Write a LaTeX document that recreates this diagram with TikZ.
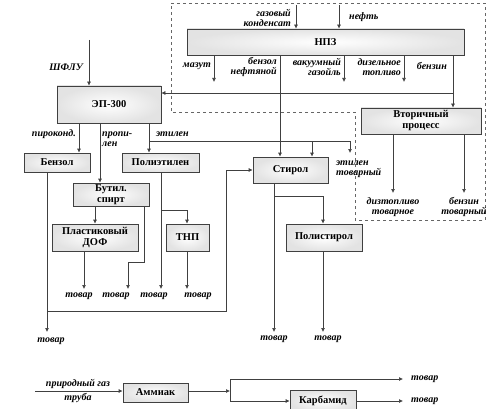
\documentclass[tikz,border=0pt]{standalone}
\usepackage{fontspec}
\setmainfont{Liberation Serif}
\usetikzlibrary{arrows.meta,shadows}

\begin{document}
\begin{tikzpicture}[x=1pt,y=-1pt]
\tikzset{box/.style = {draw=black!75, line width=.7pt, inner color=white, outer color=black!11, font=\bfseries\fontsize{10.5}{11}\selectfont, align=center, inner sep=1pt, drop shadow={shadow xshift=1pt,shadow yshift=-1pt,opacity=.25}},
  lbl/.style = {font=\bfseries\itshape\fontsize{10}{9.5}\selectfont, inner sep=1pt},
  arr/.style = {draw=black!75, line width=.7pt, -{Latex[length=4pt,width=4pt]}},
  ln/.style = {draw=black!75, line width=.7pt}}
\useasboundingbox (0,0) rectangle (500,409);

% dashed frame
\draw[dashed, black!60, line width=.8pt] (171,3) -- (485,3) -- (485,220) -- (355,220) -- (355,112) -- (171,112) -- cycle;

% boxes
\node[box, minimum width=277pt, minimum height=26pt] (npz) at (325.5,42) {НПЗ};
\node[box, minimum width=104pt, minimum height=37pt] (ep) at (109,104.5) {ЭП-300};
\node[box, minimum width=120pt, minimum height=26pt] (vp) at (421,121) {Вторичный\\процесс};
\node[box, minimum width=66pt, minimum height=19pt] (benzol) at (57,162.5) {Бензол};
\node[box, minimum width=77pt, minimum height=19pt] (pe) at (160.5,162.5) {Полиэтилен};
\node[box, minimum width=76pt, minimum height=23pt] (butil) at (111,194.5) {Бутил.\\спирт};
\node[box, minimum width=86pt, minimum height=27pt] (dof) at (95,237.5) {Пластиковый\\ДОФ};
\node[box, minimum width=43pt, minimum height=27pt] (tnp) at (187.5,237.5) {ТНП};
\node[box, minimum width=75pt, minimum height=26pt] (stirol) at (290.5,170) {Стирол};
\node[box, minimum width=76pt, minimum height=27pt] (ps) at (324,237.5) {Полистирол};
\node[box, minimum width=65pt, minimum height=19pt] (amm) at (155.5,392.5) {Аммиак};
\node[box, minimum width=66pt, minimum height=22pt] (karb) at (323,401) {Карбамид};

% free ends
\coordinate (gk) at (296,5);
\coordinate (neft) at (339,5);
\coordinate (mazut) at (214,82);
\coordinate (bn) at (280,0);
\coordinate (vg) at (344,82);
\coordinate (dt) at (404,82);
\coordinate (bz) at (453,93);
\coordinate (shflu) at (89,40);
\coordinate (et) at (149,141);
\coordinate (et2) at (312,141);
\coordinate (etk) at (350,141);
\coordinate (etend) at (350,153);
\coordinate (dtt) at (393,193);
\coordinate (bzt) at (464,193);
\coordinate (b1) at (47,311);
\coordinate (b2) at (226,311);
\coordinate (bend) at (47,332);
\coordinate (bs1) at (144,262);
\coordinate (bs2) at (128,262);
\coordinate (t1) at (84,289);
\coordinate (t2) at (128,289);
\coordinate (t3) at (161,289);
\coordinate (t4) at (187,289);
\coordinate (pe1) at (161,210);
\coordinate (pe2) at (187,210);
\coordinate (s1) at (274,196);
\coordinate (s2) at (323,196);
\coordinate (s3) at (274,332);
\coordinate (s4) at (323,332);
\coordinate (gas) at (35,391);
\coordinate (a1) at (230,391);
\coordinate (a2) at (230,379);
\coordinate (a3) at (230,401);
\coordinate (a4) at (403,379);
\coordinate (a5) at (403,401);

% НПЗ
\draw[arr] (gk) -- (gk |- npz.north);
\draw[arr] (neft) -- (neft |- npz.north);
\draw[arr] (mazut |- npz.south) -- (mazut);
\draw[arr] (bn |- npz.south) -- (bn |- stirol.north);
\draw[arr] (vg |- npz.south) -- (vg);
\draw[arr] (dt |- npz.south) -- (dt);
\draw[ln] (bz |- npz.south) -- (bz);
\draw[arr] (bz) -- (bz |- vp.north);
\draw[arr] (bz) -- (bz -| ep.east);
\draw[arr] (dtt |- vp.south) -- (dtt);
\draw[arr] (bzt |- vp.south) -- (bzt);

% ЭП-300
\draw[arr] (shflu) -- (shflu |- ep.north);
\draw[arr] (79,0 |- ep.south) -- (79,0 |- benzol.north);
\draw[arr] (100,0 |- ep.south) -- (100,0 |- butil.north);
\draw[arr] (et |- ep.south) -- (et |- pe.north);
\draw[ln] (et) -- (etk);
\draw[arr] (et2) -- (et2 |- stirol.north);
\draw[arr] (etk) -- (etend);

% Бензол
\draw[arr] (bend |- benzol.south) -- (bend);
\draw[ln] (b1) -- (b2) -- (b2 |- stirol.west);
\draw[arr] (b2 |- stirol.west) -- (stirol.west);

% Бутил. спирт, Полиэтилен
\draw[arr] (95,0 |- butil.south) -- (95,0 |- dof.north);
\draw[ln] (bs1 |- butil.south) -- (bs1) -- (bs2);
\draw[arr] (bs2) -- (t2);
\draw[arr] (t1 |- dof.south) -- (t1);
\draw[arr] (t3 |- pe.south) -- (t3);
\draw[ln] (pe1) -- (pe2);
\draw[arr] (pe2) -- (pe2 |- tnp.north);
\draw[arr] (t4 |- tnp.south) -- (t4);

% Стирол
\draw[arr] (s1 |- stirol.south) -- (s3);
\draw[ln] (s1) -- (s2);
\draw[arr] (s2) -- (s2 |- ps.north);
\draw[arr] (s4 |- ps.south) -- (s4);

% Аммиак
\draw[arr] (gas) -- (gas -| amm.west);
\draw[arr] (amm.east |- a1) -- (a1);
\draw[ln] (a2) -- (a3);
\draw[arr] (a2) -- (a4);
\draw[arr] (a3) -- (a3 -| karb.west);
\draw[arr] (karb.east |- a5) -- (a5);

% labels
\node[lbl, anchor=east, align=right] (lgk) at (292,18) {газовый\\конденсат};
\node[lbl, anchor=west] (lneft) at (348,17) {нефть};
\node[lbl, anchor=east] (lmazut) at (212,66) {мазут};
\node[lbl, anchor=east, align=right] (lbn) at (278,67) {бензол\\нефтяной};
\node[lbl, anchor=east, align=right] (lvg) at (342,67) {вакуумный\\газойль};
\node[lbl, anchor=east, align=right] (ldt) at (402,67) {дизельное\\топливо};
\node[lbl, anchor=east] (lbz) at (448,66) {бензин};
\node[lbl, anchor=east] (lshflu) at (84,67) {ШФЛУ};
\node[lbl, anchor=east] (lpk) at (77,134) {пироконд.};
\node[lbl, anchor=west, align=left] (lpp) at (101,139) {пропи-\\лен};
\node[lbl, anchor=west] (let) at (155,134) {этилен};
\node[lbl, anchor=west, align=left] (letk) at (335,169) {этилен\\товарный};
\node[lbl, align=center] (ldtt) at (393,207) {дизтопливо\\товарное};
\node[lbl, align=center] (lbzt) at (464,207) {бензин\\товарный};
\node[lbl] (lt1) at (79,296) {товар};
\node[lbl] (lt2) at (116,296) {товар};
\node[lbl] (lt3) at (154,296) {товар};
\node[lbl] (lt4) at (198,296) {товар};
\node[lbl] (lt5) at (51,341) {товар};
\node[lbl] (lt6) at (274,339) {товар};
\node[lbl] (lt7) at (328,339) {товар};
\node[lbl, anchor=south] (lgas) at (78,390) {природный газ};
\node[lbl, anchor=north] (ltr) at (78,392) {труба};
\node[lbl, anchor=west] (lt8) at (410,379) {товар};
\node[lbl, anchor=west] (lt9) at (410,401) {товар};
\end{tikzpicture}
\end{document}
